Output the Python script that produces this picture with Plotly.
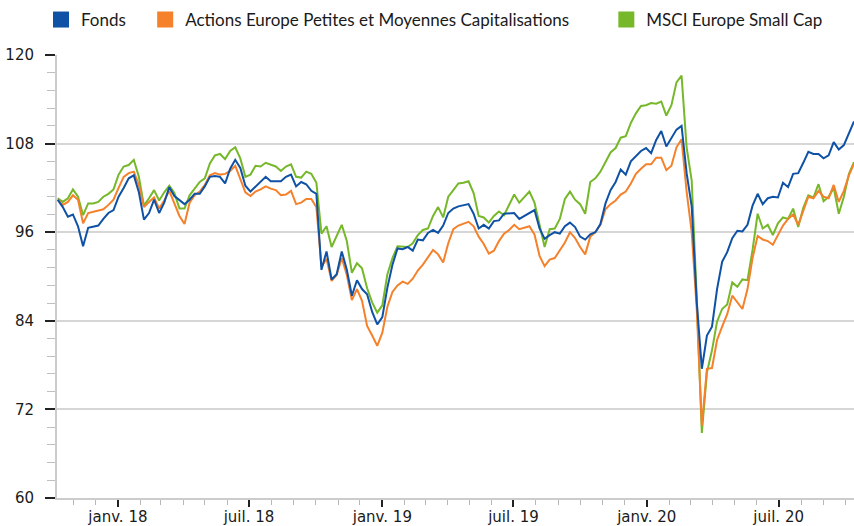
import pandas as pd
import plotly.graph_objects as go

# Weekly observation dates (Oct 2017 - Oct 2020)
dates = pd.date_range("2017-10-10", periods=158, freq="7D")

series_names = ["Fonds", "Actions Europe Petites et Moyennes Capitalisations", "MSCI Europe Small Cap"]
series_colors = ["#0F52A5", "#F5812B", "#76B82A"]

fonds = [
    100.4, 99.4, 98.1, 98.4, 96.8, 94.1, 96.6, 96.8, 96.9, 97.8,
    98.6, 99.0, 100.8, 102.0, 103.3, 103.7, 101.4, 97.7, 98.6, 100.4,
    98.6, 100.0, 102.1, 100.9, 100.4, 99.8, 100.4, 101.2, 101.2, 102.2,
    103.5, 103.6, 103.5, 102.6, 104.6, 105.8, 104.7, 102.3, 101.5, 102.2,
    102.9, 103.5, 102.9, 102.9, 102.9, 103.5, 103.8, 102.2, 102.8, 102.5,
    101.6, 101.2, 90.9, 93.4, 89.6, 90.3, 93.4, 90.9, 87.4, 89.5,
    88.3, 87.6, 85.2, 83.5, 84.5, 88.5, 91.6, 93.8, 93.7, 94.0,
    93.5, 95.0, 94.9, 95.9, 96.3, 95.9, 96.9, 98.6, 99.2, 99.5,
    99.6, 99.8, 98.5, 96.5, 97.0, 96.5, 97.5, 97.6, 98.5, 98.6,
    98.6, 97.8, 98.2, 98.7, 99.0, 96.5, 95.1, 95.6, 96.0, 95.8,
    96.8, 97.3, 96.7, 95.4, 95.0, 95.7, 96.0, 97.1, 99.9, 101.7,
    102.8, 104.5, 103.8, 105.6, 106.3, 107.0, 107.4, 106.7, 108.5, 109.7,
    107.6, 108.8, 109.9, 110.4, 104.0, 99.5, 86.5, 77.5, 82.0, 83.2,
    88.3, 92.0, 93.3, 95.2, 96.2, 96.1, 97.0, 99.6, 101.2, 99.8,
    100.6, 100.8, 100.7, 102.7, 102.1, 103.9, 104.0, 105.4, 106.9, 106.6,
    106.6, 106.0, 106.4, 108.2, 107.2, 107.8, 109.4, 111.0,
]

categorie = [
    100.4, 99.7, 100.1, 101.0, 100.4, 97.2, 98.6, 98.8, 98.9, 99.1,
    99.7, 100.4, 102.0, 103.5, 104.0, 104.2, 102.4, 99.4, 100.1, 100.7,
    99.2, 100.3, 101.6, 99.8, 98.2, 97.1, 100.0, 101.0, 101.5, 102.4,
    103.7, 104.0, 103.8, 103.9, 104.3, 105.0, 103.3, 101.4, 100.9, 101.5,
    101.8, 102.2, 101.9, 101.7, 101.0, 101.1, 101.6, 99.8, 100.0, 100.5,
    100.5, 99.4, 91.3, 92.4, 89.4, 90.2, 92.5, 90.2, 86.8, 88.3,
    86.7, 83.3, 82.0, 80.6, 82.4, 85.9, 87.9, 88.8, 89.3, 89.0,
    89.7, 90.8, 91.6, 92.6, 93.6, 93.0, 91.9, 94.5, 96.4, 96.9,
    97.2, 97.4, 96.8, 95.4, 94.4, 93.1, 93.5, 94.8, 95.8, 96.3,
    97.0, 96.4, 96.6, 96.8, 95.7, 92.8, 91.4, 92.3, 92.5, 93.6,
    94.6, 96.0, 95.2, 94.0, 93.0, 95.4, 96.0, 97.0, 99.1, 99.8,
    100.3, 101.1, 101.5, 102.6, 103.9, 104.6, 105.2, 105.2, 106.1, 106.1,
    104.4, 105.0, 107.5, 108.6, 101.5, 96.0, 85.5, 69.8, 77.5, 77.6,
    81.4, 83.2, 84.9, 87.4, 86.5, 85.6, 88.3, 92.5, 95.5, 95.0,
    94.8, 94.3, 95.6, 96.9, 97.8, 98.4, 97.0, 99.0, 100.8, 100.6,
    101.6, 100.8, 100.6, 102.4, 100.1, 101.6, 103.7, 105.3,
]

indice = [
    100.6, 100.1, 100.6, 101.8, 100.8, 98.3, 99.9, 99.9, 100.1, 100.8,
    101.2, 101.8, 103.8, 104.9, 105.1, 105.8, 103.5, 99.6, 100.6, 101.7,
    100.3, 101.4, 102.3, 101.3, 99.2, 99.2, 101.0, 101.9, 102.8, 103.3,
    105.3, 106.4, 106.6, 105.9, 107.0, 107.5, 106.0, 103.5, 103.8, 105.0,
    104.9, 105.4, 105.2, 104.9, 104.3, 104.9, 105.2, 103.5, 103.4, 104.2,
    103.9, 102.7, 95.8, 96.8, 94.0, 95.4, 97.0, 94.8, 90.5, 91.8,
    91.1, 88.4, 86.5, 85.1, 86.1, 90.3, 92.5, 94.1, 94.0, 94.0,
    94.5, 95.6, 96.3, 96.5, 98.2, 99.4, 98.0, 100.8, 101.7, 102.6,
    102.7, 102.9, 101.3, 98.2, 98.0, 97.3, 98.2, 98.8, 98.3, 99.7,
    101.1, 100.0, 100.7, 101.5, 100.0, 96.8, 94.0, 96.4, 96.5, 97.8,
    100.5, 101.5, 100.4, 99.8, 98.5, 102.8, 103.3, 104.2, 105.5, 106.8,
    107.4, 108.8, 109.0, 110.8, 112.1, 113.1, 113.2, 113.5, 113.4, 113.7,
    111.8, 113.2, 116.3, 117.2, 107.5, 103.0, 87.0, 68.8, 77.0, 80.0,
    83.9, 85.6, 86.2, 89.2, 88.6, 89.6, 89.5, 93.6, 98.5, 96.5,
    97.0, 95.6, 97.2, 98.0, 97.8, 99.2, 96.7, 99.3, 101.0, 100.7,
    102.5, 100.2, 100.8, 102.0, 98.5, 100.8, 103.9, 105.5,
]

tick_dates = ["2018-01-01", "2018-07-01", "2019-01-01", "2019-07-01", "2020-01-01", "2020-07-01"]
tick_labels = ["janv. 18", "juil. 18", "janv. 19", "juil. 19", "janv. 20", "juil. 20"]
y_ticks = [60, 72, 84, 96, 108, 120]

values = [fonds, categorie, indice]

fig = go.Figure()

# Lines (index first, fund on top)
for idx in [2, 1, 0]:
    fig.add_trace(go.Scatter(
        x=dates, y=values[idx], mode="lines",
        line=dict(color=series_colors[idx], width=2),
        showlegend=False, hoverinfo="skip",
    ))

legend_ids = ["legend", "legend2", "legend3"]
for idx in range(3):
    fig.add_trace(go.Scatter(
        x=[None], y=[None], mode="markers",
        marker=dict(symbol="square", size=16, color=series_colors[idx], line=dict(width=0)),
        name=series_names[idx], legend=legend_ids[idx],
    ))

leg_font = dict(family="Lato, 'Open Sans', sans-serif", size=17, color="#1a1a1a")
leg_common = dict(orientation="h", xref="container", yref="container",
                  yanchor="middle", y=0.962, xanchor="left",
                  font=leg_font, bgcolor="rgba(0,0,0,0)", borderwidth=0)

fig.update_layout(
    width=854, height=526,
    margin=dict(l=57, r=0, t=55, b=28, autoexpand=False),
    paper_bgcolor="white", plot_bgcolor="white",
    font=dict(family="DejaVu Sans, Verdana, sans-serif", size=14, color="#1a1a1a"),
    legend=dict(x=0.048, **leg_common),
    legend2=dict(x=0.170, **leg_common),
    legend3=dict(x=0.710, **leg_common),
    xaxis=dict(
        type="date",
        range=["2017-10-09", "2020-10-13"],
        tickvals=tick_dates, ticktext=tick_labels,
        ticks="outside", ticklen=7, tickwidth=2, tickcolor="#222222",
        showgrid=False, showline=True, linecolor="#cccccc", linewidth=2,
        zeroline=False,
        tickfont=dict(family="DejaVu Sans, Verdana, sans-serif", size=15),
        ticklabelstandoff=-3,
        minor=dict(dtick="M1", tick0="2018-01-01", ticks="outside", ticklen=5,
                   tickwidth=1, tickcolor="#b8b8b8", showgrid=False),
    ),
    yaxis=dict(
        range=[60, 120],
        tickvals=y_ticks,
        ticks="outside", ticklen=10, tickwidth=2, tickcolor="#222222",
        showgrid=True, gridcolor="#d6d6d6", gridwidth=2,
        showline=True, linecolor="#cccccc", linewidth=2,
        zeroline=False,
        tickfont=dict(family="DejaVu Sans, Verdana, sans-serif", size=15),
        ticklabelstandoff=8,
        minor=dict(dtick=2.4, tick0=60, ticks="outside", ticklen=8,
                   tickwidth=1, tickcolor="#c0c0c0", showgrid=False),
    ),
)

fig.write_html(
    "out.html",
    config={"displayModeBar": False},
    post_script="document.body.style.margin='0';document.body.style.padding='0';",
)
